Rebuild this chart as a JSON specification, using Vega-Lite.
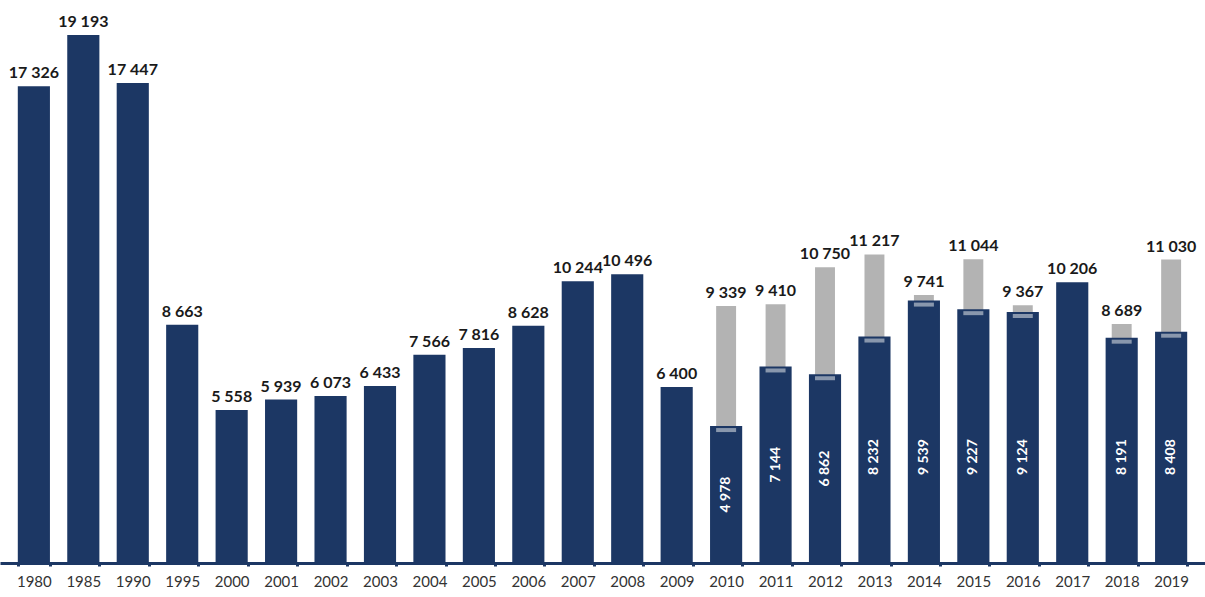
{
  "$schema": "https://vega.github.io/schema/vega-lite/v6.json",
  "width": 1205,
  "height": 563,
  "padding": 0,
  "background": "white",
  "config": {
    "view": {"stroke": null},
    "locale": {"number": {"decimal": ",", "thousands": " ", "grouping": [3], "currency": ["", ""]}}
  },
  "data": {
    "values": [
      {"year": "1980", "navy": 17326},
      {"year": "1985", "navy": 19193},
      {"year": "1990", "navy": 17447},
      {"year": "1995", "navy": 8663},
      {"year": "2000", "navy": 5558},
      {"year": "2001", "navy": 5939},
      {"year": "2002", "navy": 6073},
      {"year": "2003", "navy": 6433},
      {"year": "2004", "navy": 7566},
      {"year": "2005", "navy": 7816},
      {"year": "2006", "navy": 8628},
      {"year": "2007", "navy": 10244},
      {"year": "2008", "navy": 10496},
      {"year": "2009", "navy": 6400},
      {"year": "2010", "navy": 4978, "grey": 9339},
      {"year": "2011", "navy": 7144, "grey": 9410},
      {"year": "2012", "navy": 6862, "grey": 10750},
      {"year": "2013", "navy": 8232, "grey": 11217},
      {"year": "2014", "navy": 9539, "grey": 9741},
      {"year": "2015", "navy": 9227, "grey": 11044},
      {"year": "2016", "navy": 9124, "grey": 9367},
      {"year": "2017", "navy": 10206},
      {"year": "2018", "navy": 8191, "grey": 8689},
      {"year": "2019", "navy": 8408, "grey": 11030}
    ]
  },
  "transform": [
    {"calculate": "datum.grey != null ? datum.grey : datum.navy", "as": "top"},
    {"calculate": "min(datum.navy / 2, 3850)", "as": "mid"}
  ],
  "encoding": {
    "x": {
      "field": "year",
      "type": "ordinal",
      "sort": "ascending",
      "scale": {"paddingInner": 0.35, "paddingOuter": 0.36},
      "axis": {
        "title": null,
        "labelAngle": 0,
        "labelFont": "Lato",
        "labelFontSize": 15,
        "labelColor": "#333333",
        "labelPadding": 8,
        "domainColor": "#1c3764",
        "domainWidth": 3,
        "tickColor": "#1c3764",
        "tickSize": 3,
        "tickWidth": 3,
        "tickBand": "extent"
      }
    }
  },
  "layer": [
    {
      "transform": [{"filter": "datum.grey != null"}],
      "mark": {"type": "bar", "color": "#b3b3b3", "width": {"band": 0.62}},
      "encoding": {
        "y": {"field": "grey", "type": "quantitative", "scale": {"domain": [0, 20465], "nice": false}, "axis": null}
      }
    },
    {
      "mark": {"type": "bar", "color": "#1c3764"},
      "encoding": {
        "y": {"field": "navy", "type": "quantitative", "scale": {"domain": [0, 20465], "nice": false}, "axis": null}
      }
    },
    {
      "transform": [{"filter": "datum.grey != null"}],
      "mark": {"type": "tick", "color": "#b8c0cc", "thickness": 4, "size": 20, "yOffset": 4},
      "encoding": {
        "y": {"field": "navy", "type": "quantitative"}
      }
    },
    {
      "mark": {"type": "text", "font": "Lato", "fontWeight": "bold", "fontSize": 16, "color": "#1a1a1a", "baseline": "bottom", "dy": -5},
      "encoding": {
        "y": {"field": "top", "type": "quantitative"},
        "text": {"field": "top", "type": "quantitative", "format": ",d"}
      }
    },
    {
      "transform": [{"filter": "datum.grey != null"}],
      "mark": {"type": "text", "font": "Lato", "fontWeight": "bold", "fontSize": 14, "color": "white", "angle": 270, "align": "center", "baseline": "middle"},
      "encoding": {
        "y": {"field": "mid", "type": "quantitative"},
        "text": {"field": "navy", "type": "quantitative", "format": ",d"}
      }
    }
  ]
}
